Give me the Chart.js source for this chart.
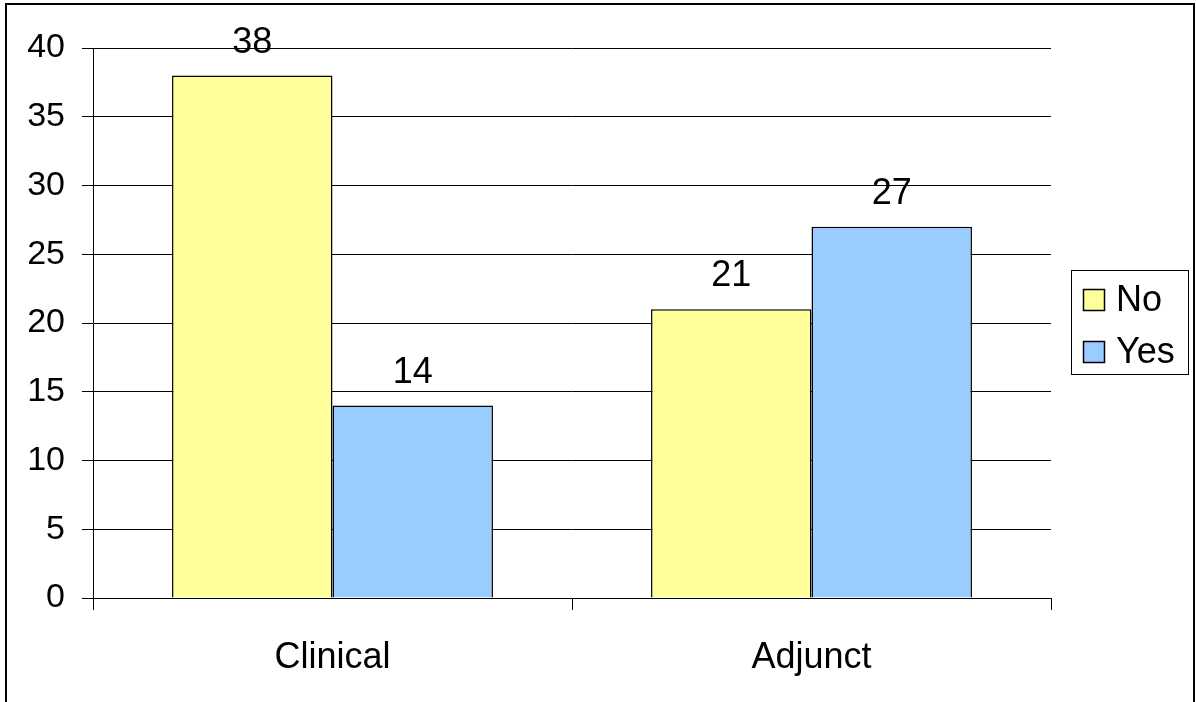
<!DOCTYPE html>
<html>
<head>
<meta charset="utf-8">
<script src="https://cdn.jsdelivr.net/npm/chart.js@4.4.1/dist/chart.umd.min.js"></script>
<style>
  html, body { margin: 0; padding: 0; background: #fff; }
  #wrap { width: 1196px; height: 702px; position: relative; }
</style>
</head>
<body>
<div id="wrap"><canvas id="c" width="1196" height="702"></canvas></div>
<script>
// Chart data
const categories = ['Clinical', 'Adjunct'];
const seriesNames = ['No', 'Yes'];
const noValues = [38, 21];
const yesValues = [14, 27];
const yTicks = [0, 5, 10, 15, 20, 25, 30, 35, 40];

const FONT = '"Liberation Sans", Arial, sans-serif';
const colors = ['#FFFF99', '#99CCFF'];

// Value labels above each bar
const valueLabels = {
  id: 'valueLabels',
  afterDatasetsDraw(chart) {
    const ctx = chart.ctx;
    ctx.save();
    ctx.fillStyle = '#000';
    ctx.font = '36px ' + FONT;
    ctx.textAlign = 'center';
    ctx.textBaseline = 'alphabetic';
    chart.data.datasets.forEach((ds, i) => {
      chart.getDatasetMeta(i).data.forEach((bar, j) => {
        ctx.fillText(String(ds.data[j]), bar.x, bar.y - 23);
      });
    });
    ctx.restore();
  }
};

// Boxed legend on the right and the outer frame
const frameAndLegend = {
  id: 'frameAndLegend',
  afterDraw(chart) {
    const ctx = chart.ctx;
    ctx.save();
    // outer frame
    ctx.strokeStyle = '#000';
    ctx.lineWidth = 2;
    ctx.beginPath();
    ctx.moveTo(6, 710);
    ctx.lineTo(6, 4);
    ctx.lineTo(1194, 4);
    ctx.lineTo(1194, 710);
    ctx.stroke();

    // legend box
    ctx.lineWidth = 1;
    ctx.strokeRect(1071.5, 270.5, 117, 104);
    ctx.font = '36px ' + FONT;
    ctx.textAlign = 'left';
    ctx.textBaseline = 'middle';
    chart.data.datasets.forEach((ds, i) => {
      const cy = 300 + i * 52;
      ctx.fillStyle = ds.backgroundColor;
      ctx.fillRect(1083.5, cy - 10.5, 21, 21);
      ctx.strokeStyle = '#000';
      ctx.lineWidth = 1.5;
      ctx.strokeRect(1083.5, cy - 10.5, 21, 21);
      ctx.fillStyle = '#000';
      ctx.fillText(ds.label, 1116, cy + 1);
    });
    ctx.restore();
  }
};

new Chart(document.getElementById('c'), {
  type: 'bar',
  data: {
    labels: categories,
    datasets: [
      { label: seriesNames[0], data: noValues, backgroundColor: colors[0], borderColor: '#000', borderWidth: 1.5 },
      { label: seriesNames[1], data: yesValues, backgroundColor: colors[1], borderColor: '#000', borderWidth: 1.5 }
    ]
  },
  options: {
    responsive: false,
    animation: false,
    devicePixelRatio: 1,
    layout: { padding: { left: 0, top: 48, right: 145, bottom: 0 } },
    barPercentage: 1.0,
    categoryPercentage: 0.67,
    plugins: {
      legend: { display: false },
      tooltip: { enabled: false }
    },
    scales: {
      x: {
        grid: {
          offset: true,
          drawOnChartArea: false,
          drawTicks: true,
          tickLength: 12,
          color: '#000',
          lineWidth: 1
        },
        border: { display: true, color: '#000', width: 1 },
        ticks: {
          color: '#000',
          font: { family: FONT, size: 36 },
          padding: 26,
          maxRotation: 0
        },
        afterFit(scale) { scale.height = 104; }
      },
      y: {
        min: 0,
        max: 40,
        afterBuildTicks(scale) { scale.ticks = yTicks.map(v => ({ value: v })); },
        grid: {
          color: '#000',
          lineWidth: 1,
          drawTicks: true,
          tickLength: 11
        },
        border: { display: true, color: '#000', width: 1 },
        ticks: {
          color: '#000',
          font: { family: FONT, size: 34 },
          padding: 17
        },
        afterFit(scale) { scale.width = 93; }
      }
    }
  },
  plugins: [valueLabels, frameAndLegend]
});
</script>
</body>
</html>
